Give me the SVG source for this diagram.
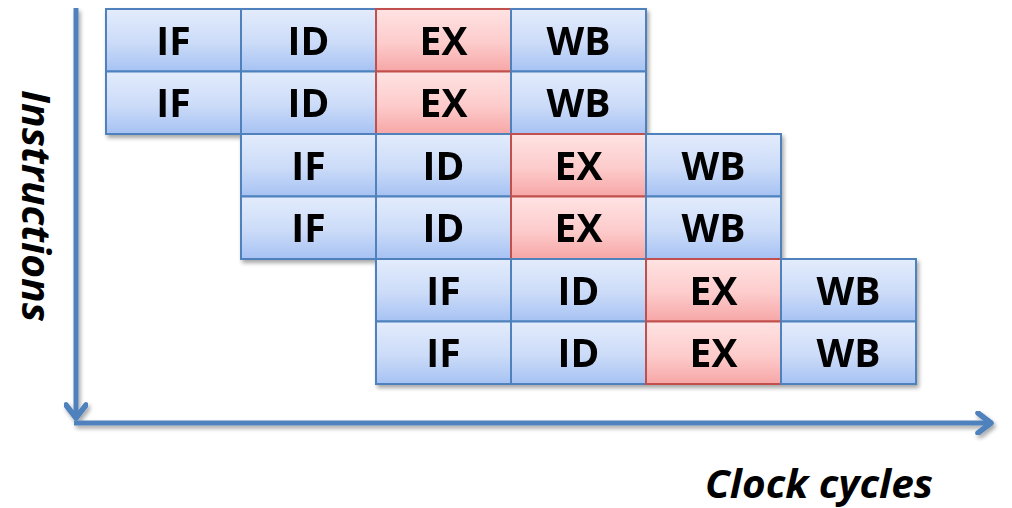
<svg xmlns="http://www.w3.org/2000/svg" width="1012" height="508" viewBox="0 0 1012 508">
  <defs>
    <linearGradient id="blueFill" x1="0" y1="0" x2="0" y2="1">
      <stop offset="0" stop-color="#E3ECFC"/>
      <stop offset="0.55" stop-color="#CBDBF8"/>
      <stop offset="1" stop-color="#A6C2F3"/>
    </linearGradient>
    <linearGradient id="redFill" x1="0" y1="0" x2="0" y2="1">
      <stop offset="0" stop-color="#FFE3E3"/>
      <stop offset="0.55" stop-color="#FDCBCB"/>
      <stop offset="1" stop-color="#F7A6A6"/>
    </linearGradient>
    <filter id="shadow" x="-5%" y="-5%" width="115%" height="115%">
      <feGaussianBlur in="SourceAlpha" stdDeviation="2"/>
      <feOffset dx="2" dy="3" result="b"/>
      <feComponentTransfer><feFuncA type="linear" slope="0.35"/></feComponentTransfer>
      <feMerge><feMergeNode/><feMergeNode in="SourceGraphic"/></feMerge>
    </filter>
    <marker id="chevron" viewBox="0 0 22 24" refX="16" refY="12" markerWidth="22" markerHeight="24" markerUnits="userSpaceOnUse" orient="auto">
      <polyline points="3,2 16,12 3,22" fill="none" stroke="#4F81BD" stroke-width="5.5" stroke-linecap="round" stroke-linejoin="round"/>
    </marker>
  </defs>
  <style>
    .cell rect { stroke-width: 2; }
    .blue rect { fill: url(#blueFill); stroke: #4F81BD; }
    .red rect { fill: url(#redFill); stroke: #C0504D; }
    .cell text { font-family: "Open Sans", Lato, "Liberation Sans", sans-serif; font-weight: bold; font-size: 39px; fill: #000; text-anchor: middle; }
    .axis { fill: none; stroke: #4F81BD; stroke-width: 5; }
    .label { font-family: "Open Sans", Lato, "Liberation Sans", sans-serif; font-weight: bold; font-style: italic; font-size: 39px; fill: #000; }
  </style>

  <!-- axes -->
  <g id="connectors" filter="url(#shadow)">
    <path class="axis" d="M76,8 V418" marker-end="url(#chevron)"/>
    <path class="axis" d="M74,423 H991" marker-end="url(#chevron)"/>
  </g>

  <!-- pipeline stages: columns 135 wide from x=106, rows 62.5 high from y=9 -->
  <g id="stages" filter="url(#shadow)">
    <g id="i1-if" class="cell blue"><rect x="106" y="9" width="135" height="62.5"/><text x="173.5" y="54.5">IF</text></g>
    <g id="i1-id" class="cell blue"><rect x="241" y="9" width="135" height="62.5"/><text x="308.5" y="54.5">ID</text></g>
    <g id="i1-ex" class="cell red"><rect x="376" y="9" width="135" height="62.5"/><text x="443.5" y="54.5">EX</text></g>
    <g id="i1-wb" class="cell blue"><rect x="511" y="9" width="135" height="62.5"/><text x="578.5" y="54.5">WB</text></g>

    <g id="i2-if" class="cell blue"><rect x="106" y="71.5" width="135" height="62.5"/><text x="173.5" y="117">IF</text></g>
    <g id="i2-id" class="cell blue"><rect x="241" y="71.5" width="135" height="62.5"/><text x="308.5" y="117">ID</text></g>
    <g id="i2-ex" class="cell red"><rect x="376" y="71.5" width="135" height="62.5"/><text x="443.5" y="117">EX</text></g>
    <g id="i2-wb" class="cell blue"><rect x="511" y="71.5" width="135" height="62.5"/><text x="578.5" y="117">WB</text></g>

    <g id="i3-if" class="cell blue"><rect x="241" y="134" width="135" height="62.5"/><text x="308.5" y="179.5">IF</text></g>
    <g id="i3-id" class="cell blue"><rect x="376" y="134" width="135" height="62.5"/><text x="443.5" y="179.5">ID</text></g>
    <g id="i3-ex" class="cell red"><rect x="511" y="134" width="135" height="62.5"/><text x="578.5" y="179.5">EX</text></g>
    <g id="i3-wb" class="cell blue"><rect x="646" y="134" width="135" height="62.5"/><text x="713.5" y="179.5">WB</text></g>

    <g id="i4-if" class="cell blue"><rect x="241" y="196.5" width="135" height="62.5"/><text x="308.5" y="242">IF</text></g>
    <g id="i4-id" class="cell blue"><rect x="376" y="196.5" width="135" height="62.5"/><text x="443.5" y="242">ID</text></g>
    <g id="i4-ex" class="cell red"><rect x="511" y="196.5" width="135" height="62.5"/><text x="578.5" y="242">EX</text></g>
    <g id="i4-wb" class="cell blue"><rect x="646" y="196.5" width="135" height="62.5"/><text x="713.5" y="242">WB</text></g>

    <g id="i5-if" class="cell blue"><rect x="376" y="259" width="135" height="62.5"/><text x="443.5" y="304.5">IF</text></g>
    <g id="i5-id" class="cell blue"><rect x="511" y="259" width="135" height="62.5"/><text x="578.5" y="304.5">ID</text></g>
    <g id="i5-ex" class="cell red"><rect x="646" y="259" width="135" height="62.5"/><text x="713.5" y="304.5">EX</text></g>
    <g id="i5-wb" class="cell blue"><rect x="781" y="259" width="135" height="62.5"/><text x="848.5" y="304.5">WB</text></g>

    <g id="i6-if" class="cell blue"><rect x="376" y="321.5" width="135" height="62.5"/><text x="443.5" y="367">IF</text></g>
    <g id="i6-id" class="cell blue"><rect x="511" y="321.5" width="135" height="62.5"/><text x="578.5" y="367">ID</text></g>
    <g id="i6-ex" class="cell red"><rect x="646" y="321.5" width="135" height="62.5"/><text x="713.5" y="367">EX</text></g>
    <g id="i6-wb" class="cell blue"><rect x="781" y="321.5" width="135" height="62.5"/><text x="848.5" y="367">WB</text></g>
  </g>

  <!-- axis titles -->
  <text id="y-label" class="label" transform="translate(22,90) rotate(90)" textLength="232" lengthAdjust="spacingAndGlyphs">Instructions</text>
  <text id="x-label" class="label" x="705" y="498" textLength="228" lengthAdjust="spacingAndGlyphs">Clock cycles</text>
</svg>
